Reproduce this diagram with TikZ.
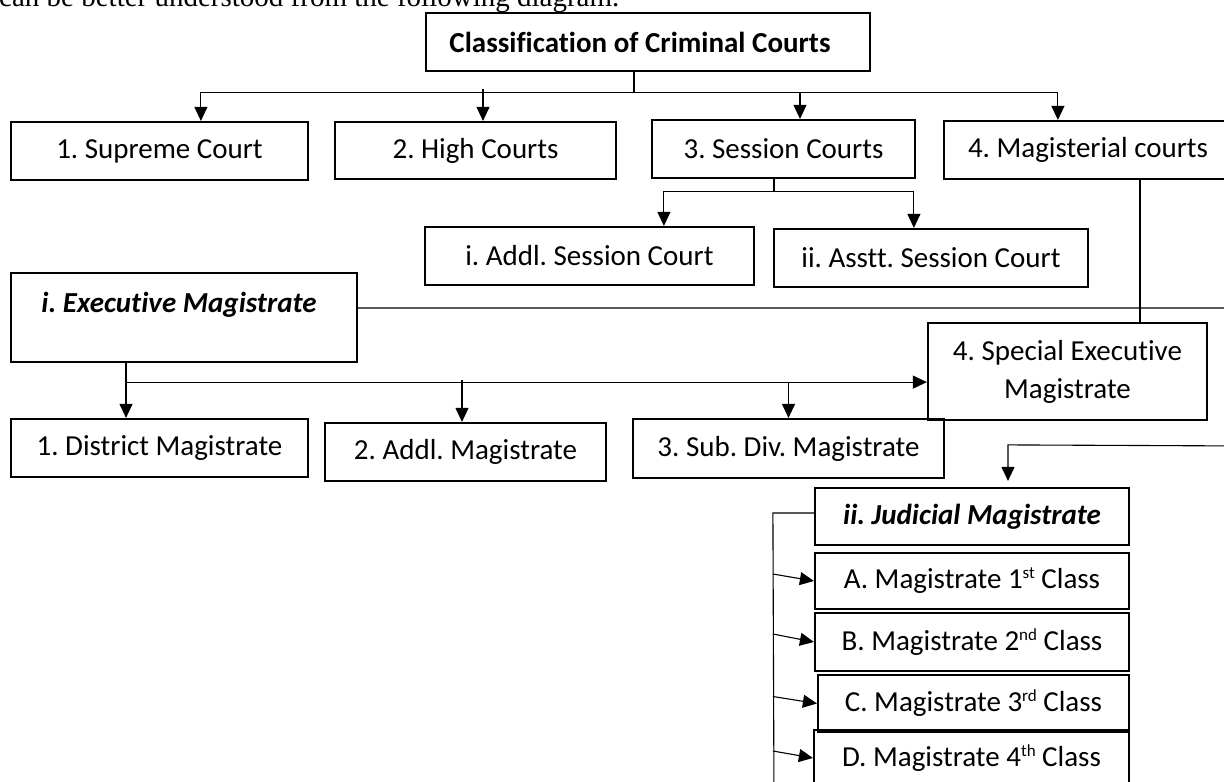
\documentclass[tikz,border=0pt]{standalone}
\usepackage{fontspec}
\setmainfont{Carlito}[Ligatures={NoCommon}]
\newfontfamily\serifdoc{Liberation Serif}
\usetikzlibrary{arrows.meta,calc}
\newcommand\supx[1]{\raisebox{10pt}{\fontsize{17}{17}\selectfont #1}}
\frenchspacing
\begin{document}
\frenchspacing
\begin{tikzpicture}[x=1pt,y=-1pt,
  box/.style={draw,line width=2.2pt,rectangle,inner sep=0pt,align=center,
    font=\fontsize{29}{38}\selectfont},
  conn/.style={line width=1.1pt},
  arr/.style={conn,-{Triangle[length=14pt,width=13pt]}}]
\useasboundingbox (0,0) rectangle (1224,782);
\clip (0,0) rectangle (1224,782);

% intro text (cut at the top, as in the source)
\node[anchor=base west,inner sep=0pt,font=\serifdoc\fontsize{29}{35}\selectfont] (intro) at (-1,6) {can be better understood from the following diagram.};

% boxes
\node[box,minimum width=444pt,minimum height=58pt,font=\bfseries\fontsize{29}{35}\selectfont] (title) at (648,42) {\hspace*{-16pt}Classification of Criminal Courts};
\node[box,minimum width=297pt,minimum height=58pt] (sc) at (159.5,151) {1. Supreme Court};
\node[box,minimum width=281pt,minimum height=57pt] (hc) at (475.5,150.5) {2. High Courts};
\node[box,minimum width=263pt,minimum height=58pt] (ses) at (783.5,149) {3. Session Courts};
\node[box,minimum width=288pt,minimum height=58pt] (mag) at (1088,150) {4. Magisterial courts};
\node[box,minimum width=329pt,minimum height=58pt] (ads) at (589.5,256) {i. Addl. Session Court};
\node[box,minimum width=314pt,minimum height=58pt] (ass) at (931,258) {ii. Asstt. Session Court};
\node[box,minimum width=346pt,minimum height=89pt] (exe) at (184,317.5) {};
\node[inner sep=0pt,font=\bfseries\itshape\fontsize{29}{35}\selectfont] (exet) at (179,305) {i. Executive Magistrate};
\node[box,minimum width=279pt,minimum height=97pt] (spe) at (1067.5,371.5) {4. Special Executive\\Magistrate};
\node[box,minimum width=297pt,minimum height=58pt] (dm) at (159.5,448) {1. District Magistrate};
\node[box,minimum width=281pt,minimum height=58pt] (am) at (465.5,452) {2. Addl. Magistrate};
\node[box,minimum width=311pt,minimum height=59pt] (sdm) at (788.5,448.5) {3. Sub. Div. Magistrate};
\node[box,minimum width=314pt,minimum height=57pt,font=\bfseries\itshape\fontsize{29}{35}\selectfont] (jm) at (972,516.5) {ii. Judicial Magistrate};
\node[box,minimum width=314pt,minimum height=56pt] (ma) at (972,581) {A. Magistrate 1\supx{st} Class};
\node[box,minimum width=314pt,minimum height=58pt] (mb) at (972,642) {B. Magistrate 2\supx{nd} Class};
\node[box,minimum width=311pt,minimum height=57pt] (mc) at (973.5,703.5) {C. Magistrate 3\supx{rd} Class};
\node[box,minimum width=315pt,minimum height=56pt] (md) at (971.5,758) {D. Magistrate 4\supx{th} Class};

% title connectors
\coordinate (tst) at ([xshift=-14pt]title.south);
\coordinate (tbus) at ([xshift=-14pt,yshift=-20pt]title.south);
\draw[conn] (tst) -- (tbus);
\draw[arr] (tbus) -| ([xshift=191pt]sc.north west);
\draw[arr] (tbus) -| ([xshift=115pt]mag.north west);
\draw[arr] ([xshift=7.5pt,yshift=3pt]hc.north |- tbus) -- ([xshift=7.5pt]hc.north);
\draw[arr] ([xshift=16.5pt]ses.north |- tbus) -- ([xshift=16.5pt]ses.north);

% session connectors
\coordinate (sst) at ([xshift=-9.5pt]ses.south);
\coordinate (sbus) at ([xshift=-9.5pt,yshift=-12pt]ses.south);
\draw[conn] (sst) -- (sbus);
\draw[arr] (sbus) -| ([xshift=240pt]ads.north west);
\draw[arr] (sbus) -| ([xshift=141pt]ass.north west);

% magisterial stem
\draw[conn] ([xshift=52pt]mag.south) -- ([xshift=52pt]mag.south |- spe.north);

% executive -> right edge -> judicial
\coordinate (redge1) at (1250,308);
\coordinate (redge2) at (1250,446);
\coordinate (jbus) at ([xshift=36pt,yshift=42pt]jm.north);
\draw[arr] ([yshift=9.5pt]exe.east) -- (redge1) -- (redge2) -- (jbus) -- ([xshift=36pt,yshift=6pt]jm.north);

% executive subdivisions
\coordinate (est) at ([xshift=-58pt]exe.south);
\coordinate (ebus) at ([xshift=-58pt,yshift=-19pt]exe.south);
\draw[conn] (est) -- (ebus);
\draw[arr] (ebus) -- (ebus -| spe.west);
\draw[arr] (ebus) -- ([xshift=-33.5pt]dm.north);
\draw[arr] ([xshift=-3.5pt,yshift=2pt]am.north |- ebus) -- ([xshift=-3.5pt]am.north);
\draw[arr] (sdm.north |- ebus) -- (sdm.north);

% judicial subdivisions
\coordinate (jl) at ([xshift=-41pt,yshift=3.5pt]jm.west);
\coordinate (jlb) at (774,800);
\draw[conn] ([yshift=3.5pt]jm.west) -- (jl) -- (jlb);
\draw[arr] ([yshift=7pt]ma.west -| jl) -- (ma.west);
\draw[arr] ([yshift=8pt]mb.west -| jl) -- (mb.west);
\draw[arr] ([yshift=7pt]mc.west -| jl) -- (mc.west);
\draw[arr] ([yshift=7pt]md.west -| jl) -- (md.west);
\end{tikzpicture}
\end{document}
